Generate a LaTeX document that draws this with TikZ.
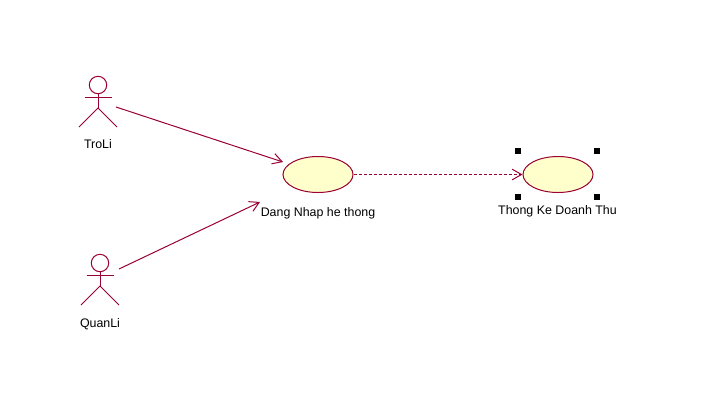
\documentclass[tikz,border=0pt]{standalone}
\usepackage{fontspec}
\setmainfont{Liberation Sans}
\usetikzlibrary{arrows.meta,positioning,shapes.geometric}
\definecolor{umlred}{RGB}{153,0,51}
\definecolor{umlfill}{RGB}{255,255,204}
\tikzset{
    figline/.style={draw=umlred, line width=0.75pt},
    usecase/.style={ellipse, draw=umlred, line width=0.75pt, fill=umlfill, minimum width=52.5pt, minimum height=27pt, inner sep=0pt},
    caption/.style={font=\fontsize{9.3}{11}\selectfont, inner sep=0pt, text=black},
    association/.style={draw=umlred, line width=0.75pt, -{Straight Barb[length=7pt, width=8pt]}},
    dependency/.style={association, dash pattern=on 2.25pt off 1.5pt},
    handle/.style={rectangle, fill=black, minimum size=4.2pt, inner sep=0pt},
    pics/actorfig/.style={code={
        \draw[figline] (0,0) circle (8.7);
        \draw[figline] (0,8.7) -- (0,23);
        \draw[figline] (-13.5,12.5) -- (13.5,12.5);
        \draw[figline] (-19,42) -- (0,23) -- (19,42);
    }}
}
\begin{document}
\begin{tikzpicture}[x=0.75pt, y=-0.75pt]
    \useasboundingbox (0,0) rectangle (723,415);
    % Actors
    \pic at (98,85) {actorfig};
    \pic at (100,263) {actorfig};
    \node[caption] (troli) at (98,144.5) {TroLi};
    \node[caption] (quanli) at (100,324) {QuanLi};
    \coordinate (troliout) at (116,107);
    \coordinate (quanliout) at (119,269);
    % Use cases
    \node[usecase] (dangnhap) at (318,174.5) {};
    \node[usecase] (thongke) at (558,174.5) {};
    \node[caption] (dangnhaplabel) at (318,213.5) {Dang Nhap he thong};
    \node[caption] (thongkelabel) at (557.5,211.5) {Thong Ke Doanh Thu};
    \coordinate (dangnhapin) at (283,162);
    \coordinate (dangnhapbelow) at (260,202);
    % Selection handles
    \node[handle] (h1) at (518,151) {};
    \node[handle] (h2) at (597,151) {};
    \node[handle] (h3) at (518,197) {};
    \node[handle] (h4) at (597,197) {};
    % Connectors
    \draw[association] (troliout) -- (dangnhapin);
    \draw[association] (quanliout) -- (dangnhapbelow);
    \draw[dependency] (dangnhap.east) -- (thongke.west);
\end{tikzpicture}
\end{document}
